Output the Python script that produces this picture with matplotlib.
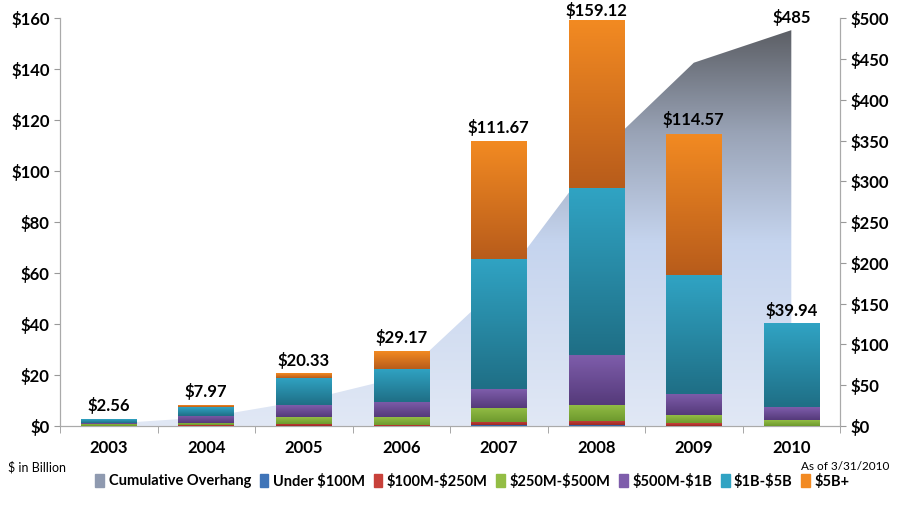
import numpy as np
import matplotlib
matplotlib.use("Agg")
import matplotlib.pyplot as plt
from matplotlib.colors import LinearSegmentedColormap
from matplotlib.patches import Patch

plt.rcParams["font.family"] = ["Lato", "DejaVu Sans"]

# data ($ billion)
years = ["2003", "2004", "2005", "2006", "2007", "2008", "2009", "2010"]
under_100m = [0.0, 0.05, 0.03, 0.0, 0.2, 0.3, 0.1, 0.0]
m100_250 = [0.1, 0.1, 0.9, 0.2, 1.4, 1.6, 1.1, 0.1]
m250_500 = [0.8, 0.8, 2.6, 3.1, 5.5, 6.4, 3.0, 2.2]
m500_1b = [0.3, 3.0, 4.6, 6.0, 7.2, 19.5, 8.5, 5.0]
b1_5 = [1.36, 3.4, 10.6, 13.1, 51.2, 65.5, 46.7, 32.64]
b5_plus = [0.0, 0.62, 1.6, 6.77, 46.17, 65.82, 55.17, 0.0]
totals = [2.56, 7.97, 20.33, 29.17, 111.67, 159.12, 114.57, 39.94]
cumulative = [2.56, 10.53, 30.86, 60.03, 171.70, 330.82, 445.39, 485.33]

series = [under_100m, m100_250, m250_500, m500_1b, b1_5, b5_plus]
names = ["Under \\$100M", "\\$100M-\\$250M", "\\$250M-\\$500M",
         "\\$500M-\\$1B", "\\$1B-\\$5B", "\\$5B+"]
# (top colour, bottom colour) for each segment gradient
grads = [("#3f74b8", "#2a5592"), ("#c8413a", "#9c2b26"), ("#93bd45", "#6e9a2e"),
         ("#7e5dab", "#553a7a"), ("#30a3c3", "#1f6f86"), ("#f28a22", "#b85c1b")]

fig = plt.figure(figsize=(9, 5.2), dpi=100)
ax = fig.add_axes([0.0667, 0.181, 0.8667, 0.784])
ax2 = ax.twinx()
ax.set_zorder(ax2.get_zorder() + 1)
ax.patch.set_visible(False)

x = np.arange(len(years))

# cumulative overhang area with vertical gradient
poly = ax2.fill_between(x, 0, cumulative, color="none", lw=0)
area_cmap = LinearSegmentedColormap.from_list(
    "area", [(0, "#e1e8f5"), (0.45, "#c5d4ee"), (0.72, "#99a3b6"), (1.0, "#55575c")])
im = ax2.imshow(np.linspace(0, 1, 256).reshape(-1, 1), cmap=area_cmap,
                extent=[-0.5, 7.5, 0, 500], origin="lower", aspect="auto", zorder=1)
im.set_clip_path(poly.get_paths()[0], transform=ax2.transData)
ax2.annotate("\\$485", (x[-1], cumulative[-1]), xytext=(0, 3),
             textcoords="offset points", ha="center", va="bottom",
             fontsize=12, fontweight="bold")

# stacked bars with gradient fill
width = 0.57
bottom = np.zeros(len(years))
for vals, (ctop, cbot) in zip(series, grads):
    vals = np.array(vals)
    bars = ax.bar(x, vals, width, bottom=bottom, color="none", lw=0)
    cmap = LinearSegmentedColormap.from_list("seg", [cbot, ctop])
    for b in bars:
        if b.get_height() <= 0:
            continue
        bx, by = b.get_x(), b.get_y()
        ax.imshow(np.linspace(0, 1, 64).reshape(-1, 1), cmap=cmap,
                  extent=[bx, bx + b.get_width(), by, by + b.get_height()],
                  origin="lower", aspect="auto", zorder=3)
    bottom += vals

for xi, t in zip(x, totals):
    ax.annotate(f"\\${t:.2f}", (xi, t), xytext=(0, 4 if t < 150 else 1),
                textcoords="offset points", ha="center", va="bottom",
                fontsize=12, fontweight="bold")

ax.set_xlim(-0.5, 7.5)
ax.set_ylim(0, 160)
ax2.set_ylim(0, 500)
ax.set_yticks(np.arange(0, 161, 20))
ax.set_yticklabels([f"\\${v}" for v in range(0, 161, 20)])
ax2.set_yticks(np.arange(0, 501, 50))
ax2.set_yticklabels([f"\\${v}" for v in range(0, 501, 50)])
ax.set_xticks(x)
ax.set_xticklabels(years)
ax.set_xticks(np.arange(-0.5, 8, 1), minor=True)
ax.tick_params(axis="x", which="major", length=0, pad=10)
ax.tick_params(axis="x", which="minor", length=5, color="#999999")
ax.tick_params(axis="y", length=4, color="#999999")
ax2.tick_params(axis="y", length=4, color="#999999")
for a in (ax, ax2):
    for lab in a.get_xticklabels() + a.get_yticklabels():
        lab.set_fontsize(12)
        lab.set_fontweight("bold")
    a.spines["top"].set_visible(False)
    for s in ["left", "right", "bottom"]:
        a.spines[s].set_color("#aaaaaa")

fig.text(0.009, 0.093, "\\$ in Billion", fontsize=9)
fig.text(0.988, 0.097, "As of 3/31/2010", fontsize=8.5, ha="right")

handles = [Patch(color="#8f9ab0")] + [Patch(color=g[0]) for g in grads]
labels = ["Cumulative Overhang"] + names
fig.legend(handles, labels, loc="center", bbox_to_anchor=(0.525, 0.075), ncol=7,
           frameon=False, handlelength=0.6, handleheight=0.9, handletextpad=0.3,
           columnspacing=0.6, prop={"size": 10.5, "weight": "bold"})

fig.savefig("out.png", dpi=100)
